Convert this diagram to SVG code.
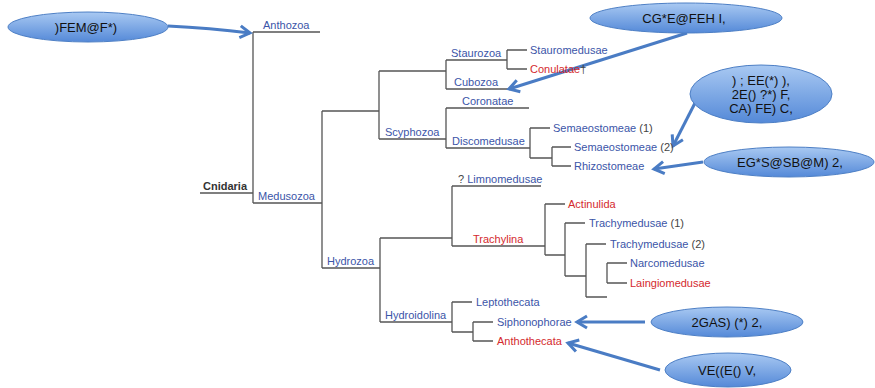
<svg xmlns="http://www.w3.org/2000/svg" width="875" height="388" viewBox="0 0 875 388">
<style>
.t{font-family:"Liberation Sans",Arial,sans-serif;font-size:11px;fill:#3b55a8}
.r{fill:#d42a2e}
.g{fill:#444}
.b{font-weight:bold;fill:#333}
.e{fill:url(#grad);stroke:#4d7fc5;stroke-width:1}
.et{font-family:"Liberation Sans",Arial,sans-serif;font-size:13px;fill:#111;text-anchor:middle}
.tree{fill:none;stroke:#555;stroke-width:1.3}
.arr{fill:none;stroke:#4a7cc4;stroke-width:3;marker-end:url(#ah)}
</style>
<defs>
<linearGradient id="grad" x1="0" y1="0" x2="0" y2="1">
<stop offset="0" stop-color="#a9c9f2"/>
<stop offset="1" stop-color="#5489d8"/>
</linearGradient>
<marker id="ah" markerUnits="userSpaceOnUse" markerWidth="16" markerHeight="16" viewBox="0 0 16 16" refX="13" refY="8" orient="auto">
<path d="M3,2 L13,8 L3,14" fill="none" stroke="#4a7cc4" stroke-width="3" stroke-linejoin="miter"/>
</marker>
</defs>
<rect width="875" height="388" fill="#fff"/>

<g id="connectors">
<g class="tree">
<path d="M200,193 H253 M253,32 V203 M253,32 H320 M253,203 H322"/>
<path d="M322,111 V268 M322,111 H379 M322,268 H380"/>
<path d="M379,71 V139 M379,71 H446 M379,139 H446"/>
<path d="M446,60 V89 M446,60 H507 M446,89 H508"/>
<path d="M507,50 V69 M507,50 H527 M507,69 H527"/>
<path d="M446,108 V148 M446,108 H529 M446,148 H530"/>
<path d="M530,128 V158 M530,128 H550 M530,158 H552"/>
<path d="M552,147 V166 M552,147 H571 M552,166 H571"/>
<path d="M380,238 V322 M380,238 H452 M380,322 H452"/>
<path d="M452,186 V246 M452,186 H541 M452,246 H545"/>
<path d="M545,204 V255 M545,204 H565 M545,255 H565"/>
<path d="M565,223 V276 M565,223 H585 M565,276 H586"/>
<path d="M586,244 V297 M586,244 H606 M586,297 H607"/>
<path d="M607,263 V283 M607,263 H627 M607,283 H627"/>
<path d="M452,302 V332 M452,302 H472 M452,332 H473"/>
<path d="M473,322 V341 M473,322 H493 M473,341 H493"/>
</g>
<g id="arrows">
<path class="arr" d="M168,26 Q210,28 250,33"/>
<path class="arr" d="M687,33 L509,89"/>
<path class="arr" d="M695,103 L673,146"/>
<path class="arr" d="M703,162 L654,169"/>
<path class="arr" d="M645,322 L577,322"/>
<path class="arr" d="M660,370 L568,343"/>
</g>
</g>

<g id="n-cnidaria"><text class="t b" x="203" y="190">Cnidaria</text></g>
<g id="n-anthozoa"><text class="t" x="263" y="29">Anthozoa</text></g>
<g id="n-medusozoa"><text class="t" x="258" y="200">Medusozoa</text></g>
<g id="n-scyphozoa"><text class="t" x="385" y="136">Scyphozoa</text></g>
<g id="n-staurozoa"><text class="t" x="451" y="57">Staurozoa</text></g>
<g id="n-cubozoa"><text class="t" x="454" y="86">Cubozoa</text></g>
<g id="n-coronatae"><text class="t" x="462" y="105">Coronatae</text></g>
<g id="n-discomedusae"><text class="t" x="452" y="145">Discomedusae</text></g>
<g id="n-stauromedusae"><text class="t" x="530" y="54">Stauromedusae</text></g>
<g id="n-conulatae"><text class="t r" x="530" y="73">Conulatae<tspan class="g">†</tspan></text></g>
<g id="n-semaeo1"><text class="t" x="553" y="132">Semaeostomeae <tspan class="g">(1)</tspan></text></g>
<g id="n-semaeo2"><text class="t" x="574" y="151">Semaeostomeae <tspan class="g">(2)</tspan></text></g>
<g id="n-rhizostomeae"><text class="t" x="574" y="170">Rhizostomeae</text></g>
<g id="n-hydrozoa"><text class="t" x="327" y="265">Hydrozoa</text></g>
<g id="n-limnomedusae"><text class="t" x="458" y="183"><tspan class="g">?</tspan> Limnomedusae</text></g>
<g id="n-trachylina"><text class="t r" x="473" y="243">Trachylina</text></g>
<g id="n-actinulida"><text class="t r" x="568" y="208">Actinulida</text></g>
<g id="n-trachy1"><text class="t" x="589" y="227">Trachymedusae <tspan class="g">(1)</tspan></text></g>
<g id="n-trachy2"><text class="t" x="610" y="248">Trachymedusae <tspan class="g">(2)</tspan></text></g>
<g id="n-narcomedusae"><text class="t" x="630" y="267">Narcomedusae</text></g>
<g id="n-laingiomedusae"><text class="t r" x="630" y="287">Laingiomedusae</text></g>
<g id="n-hydroidolina"><text class="t" x="385" y="319">Hydroidolina</text></g>
<g id="n-leptothecata"><text class="t" x="476" y="306">Leptothecata</text></g>
<g id="n-siphonophorae"><text class="t" x="497" y="326">Siphonophorae</text></g>
<g id="n-anthothecata"><text class="t r" x="497" y="345">Anthothecata</text></g>

<g id="e1"><ellipse class="e" cx="88" cy="27" rx="80" ry="15"/><text class="et" x="86" y="32">)FEM@F*)</text></g>
<g id="e2"><ellipse class="e" cx="686" cy="18" rx="96" ry="15"/><text class="et" x="684" y="23">CG*E@FEH I,</text></g>
<g id="e3"><ellipse class="e" cx="761" cy="94" rx="71" ry="29"/><text class="et" x="761" y="85">) ; EE(*) ),</text><text class="et" x="761" y="99">2E() ?*) F,</text><text class="et" x="761" y="113">CA) FE) C,</text></g>
<g id="e4"><ellipse class="e" cx="789" cy="162" rx="85" ry="15"/><text class="et" x="790" y="167">EG*S@SB@M)  2,</text></g>
<g id="e5"><ellipse class="e" cx="727" cy="322" rx="76" ry="15"/><text class="et" x="727" y="327">2GAS) (*) 2,</text></g>
<g id="e6"><ellipse class="e" cx="728" cy="370" rx="63" ry="17"/><text class="et" x="727" y="375">VE((E() V,</text></g>
</svg>
